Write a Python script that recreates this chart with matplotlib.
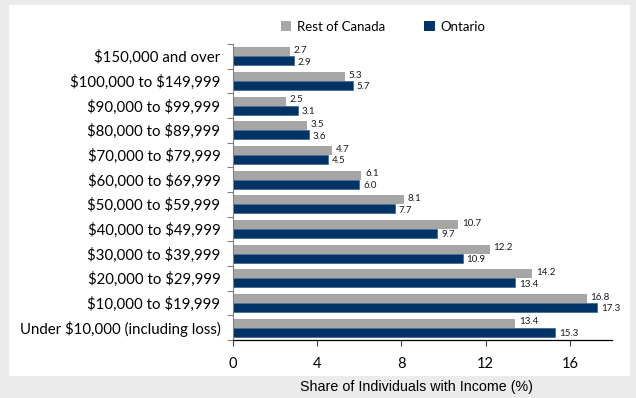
import matplotlib
matplotlib.use("Agg")
import matplotlib.pyplot as plt
from matplotlib.patches import Rectangle, Patch
import numpy as np

categories = [
    "$150,000 and over",
    "$100,000 to $149,999",
    "$90,000 to $99,999",
    "$80,000 to $89,999",
    "$70,000 to $79,999",
    "$60,000 to $69,999",
    "$50,000 to $59,999",
    "$40,000 to $49,999",
    "$30,000 to $39,999",
    "$20,000 to $29,999",
    "$10,000 to $19,999",
    "Under $10,000 (including loss)",
]
rest_of_canada = [2.7, 5.3, 2.5, 3.5, 4.7, 6.1, 8.1, 10.7, 12.2, 14.2, 16.8, 13.4]
ontario = [2.9, 5.7, 3.1, 3.6, 4.5, 6.0, 7.7, 9.7, 10.9, 13.4, 17.3, 15.3]
x_ticks = [0, 4, 8, 12, 16]

GRAY = "#a6a6a6"
NAVY = "#003366"
BG = "#ebebeb"

plt.rcParams["font.family"] = ["Lato", "DejaVu Sans"]
plt.rcParams["text.parse_math"] = False

fig = plt.figure(figsize=(6.36, 3.98), dpi=100)
fig.patch.set_facecolor(BG)
W, H = 636, 398
# white chart panel
fig.patches.append(Rectangle((9 / W, 1 - 376 / H), 621 / W, 371 / H,
                             transform=fig.transFigure, facecolor="white",
                             edgecolor="none", zorder=-10))

ax = fig.add_axes([233 / W, 1 - 340 / H, (612 - 233) / W, (340 - 44) / H])
ax.set_facecolor("none")

n = len(categories)
y = np.arange(n)
h = 0.36
ax.barh(y - h / 2, rest_of_canada, height=h, color=GRAY, edgecolor="none")
ax.barh(y + h / 2, ontario, height=h, color=NAVY, edgecolor="#2a5385", linewidth=0.4)

for yi, v in zip(y, rest_of_canada):
    ax.text(v + 0.18, yi - h / 2 - 0.05, f"{v:.1f}", va="center", ha="left",
            fontsize=7, color="#1a1a1a")
for yi, v in zip(y, ontario):
    ax.text(v + 0.18, yi + h / 2 + 0.05, f"{v:.1f}", va="center", ha="left",
            fontsize=7, color="#1a1a1a")

ax.set_ylim(n - 0.5, -0.5)
ax.set_xlim(0, 18)
ax.set_xticks(x_ticks)
ax.set_xticklabels([str(t) for t in x_ticks], fontsize=10.5)
ax.set_yticks(y)
ax.set_yticklabels(categories, fontsize=10.8)
ax.tick_params(axis="y", length=0, pad=9)
# boundary ticks between categories on the y axis
ax.set_yticks(np.arange(-0.5, n, 1), minor=True)
ax.tick_params(axis="y", which="minor", length=4, color="#808080", width=0.8)
ax.tick_params(axis="x", length=4, color="#404040", width=0.8, pad=8)

for s in ["top", "right"]:
    ax.spines[s].set_visible(False)
ax.spines["left"].set_color("#808080")
ax.spines["left"].set_linewidth(0.8)
ax.spines["bottom"].set_color("#000000")
ax.spines["bottom"].set_linewidth(0.9)

handles = [Patch(facecolor=GRAY, edgecolor="none", label="Rest of Canada"),
           Patch(facecolor=NAVY, edgecolor="none", label="Ontario")]
fig.legend(handles=handles, loc="center", bbox_to_anchor=(383 / W, 1 - 27 / H),
           ncol=2, frameon=False, fontsize=9.5, handlelength=0.8, handleheight=0.8,
           columnspacing=3.0, handletextpad=0.4)

fig.text(416 / W, 1 - 387 / H, "Share of Individuals with Income (%)",
         ha="center", va="center", fontsize=10.3, family="Liberation Sans")

fig.savefig("out.png", dpi=100, facecolor=BG)
